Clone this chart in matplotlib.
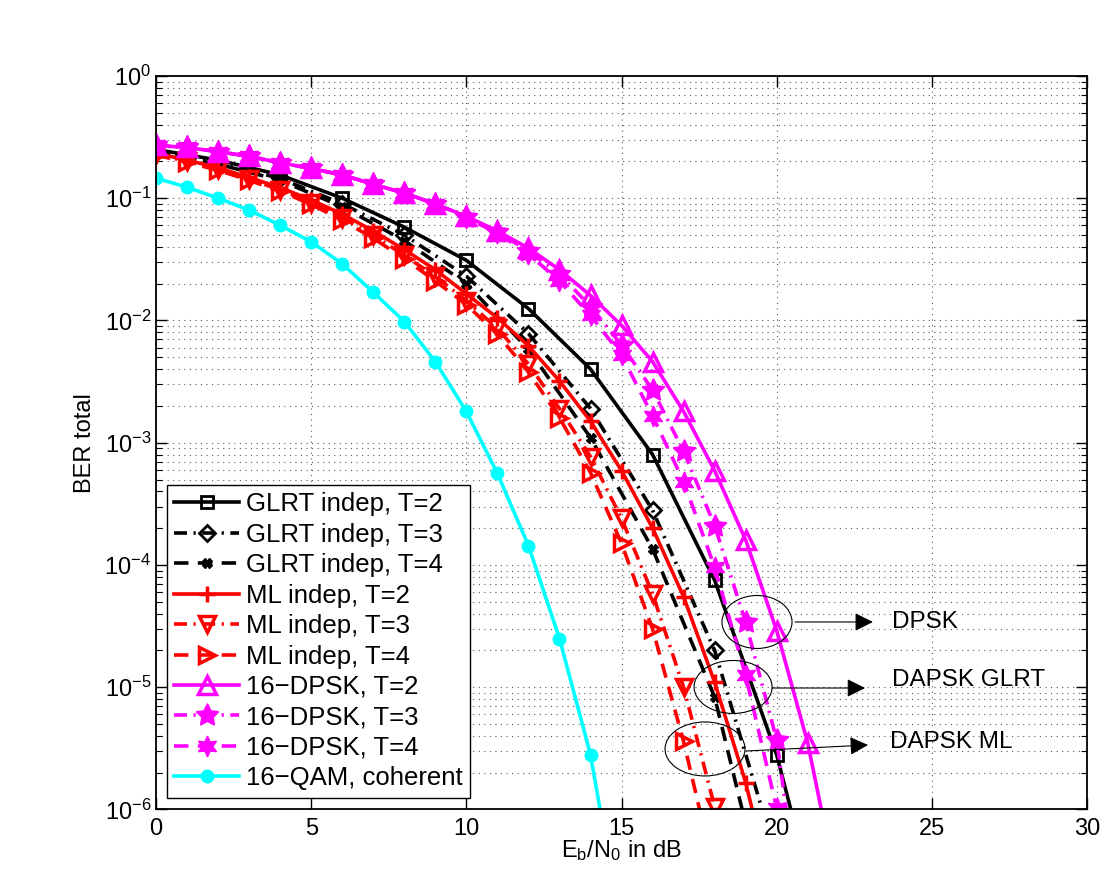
import numpy as np
import matplotlib
matplotlib.use("Agg")
import matplotlib.pyplot as plt
from matplotlib.patches import Ellipse

plt.rcParams['font.family'] = ['Liberation Sans', 'DejaVu Sans']
plt.rcParams['mathtext.fontset'] = 'custom'
plt.rcParams['mathtext.rm'] = 'Liberation Sans'
plt.rcParams['mathtext.it'] = 'Liberation Sans:italic'
plt.rcParams['mathtext.default'] = 'regular'

# Eb/N0 grids (dB)
snr_glrt = [0, 2, 4, 6, 8, 10, 12, 14, 16, 18, 20, 22]
snr_1db = list(range(0, 23))

# GLRT independent
glrt_t2 = [0.25, 0.205, 0.155, 0.1, 0.058, 0.031, 0.0125, 0.004, 8e-4, 7.5e-5, 2.8e-6, 3e-8]
glrt_t3 = [0.24, 0.195, 0.145, 0.09, 0.05, 0.023, 0.0078, 0.0019, 2.8e-4, 2e-5, 4e-7]
glrt_t4 = [0.235, 0.19, 0.14, 0.085, 0.045, 0.02, 0.0058, 0.0011, 1.35e-4, 8.3e-6, 7e-8]

# ML independent
ml_t2 = [0.233, 0.205, 0.177, 0.148, 0.122, 0.097, 0.074, 0.054, 0.038, 0.026, 0.0165,
         0.0105, 0.0062, 0.0032, 0.0015, 5.9e-4, 2e-4, 5.5e-5, 1.1e-5, 1.66e-6, 1.5e-7]
ml_t3 = [0.228, 0.2, 0.172, 0.143, 0.117, 0.092, 0.069, 0.05, 0.034, 0.023, 0.0145,
         0.0086, 0.0044, 0.0019, 7.7e-4, 2.4e-4, 5.8e-5, 1e-5, 1.05e-6, 5e-8]
ml_t4 = [0.225, 0.197, 0.169, 0.14, 0.114, 0.089, 0.066, 0.047, 0.032, 0.021, 0.0135,
         0.0077, 0.0038, 0.0016, 5.7e-4, 1.5e-4, 3e-5, 3.6e-6, 3e-7]

# 16-DPSK
dpsk_t2 = [0.27, 0.26, 0.24, 0.22, 0.195, 0.175, 0.155, 0.13, 0.11, 0.09, 0.071, 0.054,
           0.039, 0.026, 0.016, 0.0091, 0.0046, 0.0018, 5.9e-4, 1.6e-4, 2.9e-5, 3.5e-6, 2e-7]
dpsk_t3 = [0.27, 0.26, 0.24, 0.22, 0.195, 0.175, 0.155, 0.13, 0.11, 0.09, 0.07, 0.053,
           0.037, 0.024, 0.013, 0.0063, 0.0027, 8.5e-4, 2.1e-4, 3.4e-5, 3.7e-6, 5e-8]
dpsk_t4 = [0.27, 0.26, 0.24, 0.22, 0.195, 0.175, 0.155, 0.13, 0.11, 0.09, 0.069, 0.052,
           0.035, 0.021, 0.011, 0.0052, 0.00166, 4.8e-4, 9.6e-5, 1.25e-5, 1.02e-6, 3e-8]

# 16-QAM coherent
qam = [0.146, 0.123, 0.1, 0.08, 0.06, 0.044, 0.029, 0.017, 0.0098, 0.0046, 0.0018,
       5.6e-4, 1.44e-4, 2.5e-5, 2.8e-6, 1e-7]

fig = plt.figure(figsize=(11.09, 8.84), dpi=100)
ax = fig.add_axes([0.1407, 0.0843, 0.8395, 0.8298])

mag = '#ff00ff'
lw = 2.6
star5 = (5, 1, 0)
star6 = (6, 1, 0)
dash = (0, (4, 2.6))
dashdot = (0, (3.6, 1.8, 0.6, 1.8))

ax.semilogy(snr_glrt, glrt_t2, '-', color='k', lw=lw, marker='s', ms=8, mew=2,
            mfc='none', label='GLRT indep, T=2')
ax.semilogy(snr_glrt[:11], glrt_t3, linestyle=dashdot, color='k', lw=lw, marker='D', ms=8,
            mew=2, mfc='none', label='GLRT indep, T=3')
ax.semilogy(snr_glrt[:11], glrt_t4, linestyle=dash, color='k', lw=lw, marker='X', ms=7,
            mew=1, label='GLRT indep, T=4')
ax.semilogy(snr_1db[:21], ml_t2, '-', color='r', lw=lw, marker='+', ms=11, mew=2.5,
            label='ML indep, T=2')
ax.semilogy(snr_1db[:20], ml_t3, linestyle=dashdot, color='r', lw=lw, marker='v', ms=12,
            mew=2.5, mfc='none', label='ML indep, T=3')
ax.semilogy(snr_1db[:19], ml_t4, linestyle=dash, color='r', lw=lw, marker='>', ms=12,
            mew=2.5, mfc='none', label='ML indep, T=4')
ax.semilogy(snr_1db[:23], dpsk_t2, '-', color=mag, lw=lw, marker='^', ms=13, mew=2.5,
            mfc='none', label='16\u2212DPSK, T=2')
ax.semilogy(snr_1db[:22], dpsk_t3, linestyle=dashdot, color=mag, lw=lw, marker=star5,
            ms=17, label='16\u2212DPSK, T=3')
ax.semilogy(snr_1db[:22], dpsk_t4, linestyle=dash, color=mag, lw=lw, marker=star6, ms=15,
            label='16\u2212DPSK, T=4')
ax.semilogy(snr_1db[:16], qam, '-', color='#00ffff', lw=lw, marker='o', ms=9,
            label='16\u2212QAM, coherent')

ax.set_xlim(0, 30)
ax.set_ylim(1e-6, 1)
ax.set_xticks([0, 5, 10, 15, 20, 25, 30])
ax.set_yticks([1e-6, 1e-5, 1e-4, 1e-3, 1e-2, 1e-1, 1])
ax.tick_params(which='both', direction='in', top=True, right=True, labelsize=17)
ax.tick_params(which='major', length=8, width=1)
ax.tick_params(which='minor', length=4, width=0.8)
ax.tick_params(axis='x', pad=6)
for s in ax.spines.values():
    s.set_linewidth(1.3)

ax.grid(True, which='major', axis='both', color='0.35', linestyle=(0, (1, 4)), lw=0.8)
ax.grid(True, which='minor', axis='y', color='0.35', linestyle=(0, (1, 4)), lw=0.8)

ax.set_xlabel(r'E$_{b}$/N$_{0}$ in dB', fontsize=17, labelpad=-1)
ax.set_ylabel('BER total', fontsize=17, labelpad=6)

leg = ax.legend(loc='lower left', bbox_to_anchor=(0.0115, 0.0157), fontsize=18.5,
                frameon=True, fancybox=False, edgecolor='k', framealpha=1,
                handlelength=2.5, handletextpad=0.28, labelspacing=0.25,
                borderpad=0.3, borderaxespad=0)
leg.get_frame().set_linewidth(1.0)

# annotations (axes fraction)
ellipses = [(0.6455, 0.2556, 0.0752, 0.0722),
            (0.6198, 0.1670, 0.0838, 0.0722),
            (0.5897, 0.0825, 0.0859, 0.0736)]
for cx, cy, w, h in ellipses:
    ax.add_patch(Ellipse((cx, cy), w, h, transform=ax.transAxes, fill=False,
                         ec='k', lw=0.8, zorder=5))

arrows = [((0.6864, 0.2556), (0.770, 0.2556)),
          ((0.6617, 0.1656), (0.7616, 0.1656)),
          ((0.6337, 0.0797), (0.7648, 0.0879))]
for (x0, y0), (x1, y1) in arrows:
    ax.annotate('', xy=(x1, y1), xytext=(x0, y0), xycoords='axes fraction',
                arrowprops=dict(arrowstyle='-|>', color='k', lw=0.8,
                                mutation_scale=28, shrinkA=0, shrinkB=0), zorder=5)

ax.text(0.790, 0.2556, 'DPSK', transform=ax.transAxes, fontsize=17.5, va='center')
ax.text(0.7906, 0.1765, 'DAPSK GLRT', transform=ax.transAxes, fontsize=17.5, va='center')
ax.text(0.788, 0.0924, 'DAPSK ML', transform=ax.transAxes, fontsize=17.5, va='center')

fig.savefig('out.png', dpi=100)
